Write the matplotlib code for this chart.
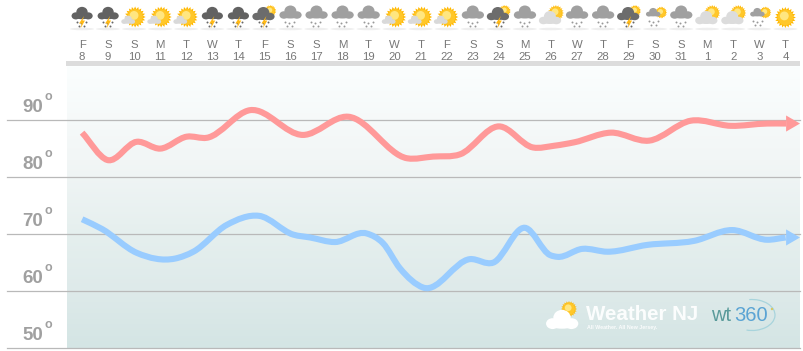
import numpy as np
import matplotlib.pyplot as plt
from matplotlib.colors import LinearSegmentedColormap
from matplotlib.patches import Ellipse, PathPatch, Polygon, Circle, Arc
from matplotlib.path import Path

plt.rcParams['font.family'] = ['Liberation Sans', 'DejaVu Sans']

W, H = 804, 351

week_days = ['F', 'S', 'S', 'M', 'T', 'W', 'T', 'F', 'S', 'S', 'M', 'T', 'W', 'T',
             'F', 'S', 'S', 'M', 'T', 'W', 'T', 'F', 'S', 'S', 'M', 'T', 'W', 'T']
dates = [8, 9, 10, 11, 12, 13, 14, 15, 16, 17, 18, 19, 20, 21,
         22, 23, 24, 25, 26, 27, 28, 29, 30, 31, 1, 2, 3, 4]
icons = ['storm', 'storm', 'suncloud', 'suncloud', 'suncloud', 'storm', 'storm', 'stormsun',
         'rain', 'rain', 'rain', 'rain', 'suncloud', 'suncloud', 'suncloud', 'rain',
         'stormsun', 'rain', 'partly', 'rain', 'rain', 'stormsun', 'showersun', 'rain',
         'partly', 'partly', 'showersun', 'sun']
temp_ticks = [50, 60, 70, 80, 90]

# day position counted on from the 8th, so the 1st of next month is 32
high_days = [8.0, 8.97, 10.1, 11.0, 12.02, 12.79, 14.45, 16.48, 18.21, 20.48,
             21.47, 22.51, 24.0, 25.31, 26.12, 26.89, 28.3, 29.77, 31.37, 32.9, 34.3, 35.03]
high_temps = [87.8, 83.0, 86.2, 85.0, 87.1, 86.9, 91.75, 87.4, 90.6, 83.3,
              83.6, 84.0, 88.9, 85.2, 85.5, 86.1, 87.8, 86.4, 89.9, 89.0, 89.4, 89.4]
low_days = [8.0, 8.76, 10.1, 11.57, 12.27, 13.55, 14.79, 16.11, 16.75, 17.71, 18.93, 19.55, 20.2, 21.1,
            22.89, 23.79, 25.0, 25.97, 26.25, 27.2, 28.17, 29.7, 31.49, 32.96, 34.3, 35.01]
low_temps = [72.6, 70.9, 66.7, 65.7, 66.9, 71.6, 73.2, 69.9, 69.4, 68.6, 70.1, 68.4, 64.0, 60.6,
             65.6, 65.0, 71.1, 66.3, 66.0, 67.4, 66.9, 68.1, 68.8, 70.7, 69.0, 69.4]

HIGH_COLOR = '#ff9999'
LOW_COLOR = '#99ccff'
DAY_PX = 26.05


def smooth_path(xs, ys):
    xs = np.array(xs)
    ys = np.array(ys)
    slopes = np.gradient(ys, xs)
    verts = [(xs[0], ys[0])]
    codes = [Path.MOVETO]
    for i in range(len(xs) - 1):
        dx = (xs[i + 1] - xs[i]) / 3
        verts += [(xs[i] + dx, ys[i] + slopes[i] * dx),
                  (xs[i + 1] - dx, ys[i + 1] - slopes[i + 1] * dx),
                  (xs[i + 1], ys[i + 1])]
        codes += [Path.CURVE4] * 3
    return Path(verts, codes)


def draw_line(ax, xs, ys, color):
    ax.add_patch(PathPatch(smooth_path(xs, ys), fc='none', ec=color, lw=4.4, capstyle='butt', zorder=4))
    ax.annotate('', xy=(ax.get_xlim()[1], ys[-1]), xytext=(xs[-1], ys[-1]), zorder=5,
                arrowprops=dict(arrowstyle='-|>,head_length=1.0,head_width=0.58', mutation_scale=10,
                                fc=color, ec=color, lw=0, shrinkA=0, shrinkB=0))


def cloud(ax, cx, cy, scale, color):
    for dx, dy, w, h in [(-6.5, 2.5, 9, 7.5), (6.5, 2.5, 9.5, 7.5), (0, -1.5, 12, 11), (0, 3, 18, 6)]:
        ax.add_patch(Ellipse((cx + dx * scale, cy + dy * scale), w * scale, h * scale, fc=color, ec='none', zorder=3))


def sun(ax, cx, cy, r):
    angles = np.linspace(0, 2 * np.pi, 40, endpoint=False)
    radii = np.where(np.arange(40) % 2 == 0, r, r * 0.76)
    ax.add_patch(Polygon(np.column_stack([cx + radii * np.cos(angles), cy + radii * np.sin(angles)]),
                         fc='#ffb800', ec='none', zorder=2))
    ax.add_patch(Circle((cx, cy), r * 0.74, fc='#ffc72a', ec='none', zorder=2.5))
    ax.add_patch(Circle((cx - r * 0.1, cy - r * 0.15), r * 0.42, fc='#ffe680', ec='none', zorder=2.6))


def drops(ax, cx, cy, color):
    ax.scatter([cx - 5, cx - 1, cx + 4, cx - 3, cx + 2], [cy, cy + 1, cy, cy + 3.5, cy + 3.5],
               s=2, color=color, lw=0, zorder=3)


def bolt(ax, cx, cy):
    ax.add_patch(Polygon([(cx + 2, cy - 6), (cx - 3, cy + 1.5), (cx - 0.3, cy + 1.5), (cx - 1.5, cy + 6.5),
                          (cx + 3, cy - 1.5), (cx + 0.6, cy - 1.5)], fc='#ffb814', ec='none', zorder=4))


def draw_icon(ax, kind, cx):
    ax.add_patch(Ellipse((cx, 29), 24, 2.5, fc='#eeeeee', ec='none', zorder=1))
    if kind == 'storm':
        cloud(ax, cx, 13.5, 0.95, '#626262')
        drops(ax, cx, 22, '#666666')
        bolt(ax, cx, 22)
    elif kind == 'stormsun':
        sun(ax, cx + 6, 11, 6)
        cloud(ax, cx - 1, 14, 1.0, '#6c6c6c')
        drops(ax, cx, 22, '#666666')
        bolt(ax, cx, 22)
    elif kind == 'suncloud':
        sun(ax, cx + 1, 17, 10.5)
        cloud(ax, cx - 6, 20, 0.62, '#d9d9d9')
    elif kind == 'rain':
        cloud(ax, cx, 12.5, 1.0, '#a0a0a0')
        drops(ax, cx, 22, '#999999')
    elif kind == 'partly':
        sun(ax, cx + 5, 13, 8)
        cloud(ax, cx - 1, 18, 1.0, '#dcdcdc')
    elif kind == 'showersun':
        sun(ax, cx + 6, 12.5, 6)
        cloud(ax, cx - 2, 12.5, 0.65, '#a0a0a0')
        drops(ax, cx - 1, 21, '#999999')
    else:
        sun(ax, cx, 17.5, 10.5)


fig = plt.figure(figsize=(W / 100, H / 100), dpi=100)
ax = fig.add_axes([67 / W, 1 - 348 / H, 733 / W, 282 / H])
ax.set_xlim(7.42, 35.56)
ax.set_ylim(50, 99.5)

grad_cmap = LinearSegmentedColormap.from_list(
    'bg', [(0, '#fbfefe'), (0.33, '#f2f6f6'), (0.6, '#e5efee'), (0.8, '#deeaea'), (1, '#d4e5e4')])
ax.imshow(np.linspace(0, 1, 200).reshape(-1, 1), cmap=grad_cmap, aspect='auto', zorder=0,
          extent=[7.42, 35.56, 50, 99.5], origin='upper')

for t in temp_ticks:
    ax.axhline(t, xmin=-60 / 733, xmax=1, color='#b9b9b9', lw=0.9, clip_on=False, zorder=1)
    ax.annotate(str(t), (0, t), xycoords=ax.get_yaxis_transform(), xytext=(-32, 6), textcoords='offset points',
                fontsize=13.5, fontweight='bold', color='#a0a0a0', ha='left', va='baseline')
    ax.annotate('o', (0, t), xycoords=ax.get_yaxis_transform(), xytext=(-16, 14.5), textcoords='offset points',
                fontsize=9, fontweight='bold', color='#a0a0a0', ha='left', va='baseline')

ax.xaxis.tick_top()
ax.set_xticks(np.arange(8, 8 + len(dates)))
ax.set_xticklabels([f'{d}\n{n}' for d, n in zip(week_days, dates)], fontsize=8.2, color='#777777', linespacing=1.25)
ax.tick_params(axis='x', length=0, pad=3)
ax.set_yticks([])
for s in ax.spines.values():
    s.set_visible(False)

draw_line(ax, high_days, high_temps, HIGH_COLOR)
draw_line(ax, low_days, low_temps, LOW_COLOR)

# pixel overlay for the icons, the header bar and the logos
deco = fig.add_axes([0, 0, 1, 1], zorder=3)
deco.set_xlim(0, W)
deco.set_ylim(H, 0)
deco.axis('off')
deco.patch.set_alpha(0)
deco.add_patch(plt.Rectangle((66, 61), 734, 5, fc='#dcdcdc', ec='none'))

for i, kind in enumerate(icons):
    draw_icon(deco, kind, 82 + i * DAY_PX)

sun(deco, 569, 309, 8)
cloud(deco, 562, 320, 1.45, '#ffffff')
deco.text(586, 319.5, 'Weather NJ', color='white', fontsize=14.8, fontweight='bold', va='baseline', alpha=0.92)
deco.text(587, 329, 'All Weather. All New Jersey.', color='white', fontsize=3.8, fontweight='bold', va='baseline', alpha=0.9)
deco.text(711, 321, 'wt', color='#4c9292', fontsize=14.5, va='baseline', alpha=0.9)
deco.text(734, 321, '360', color='#5ba4d4', fontsize=14.5, va='baseline')
deco.add_patch(Arc((752, 315), 46, 31, theta1=-100, theta2=110, ec='#a8d4dc', lw=0.9))
deco.add_patch(Circle((772, 309), 1.2, fc='#d8c860', ec='none'))

fig.savefig('out.png', dpi=100)
